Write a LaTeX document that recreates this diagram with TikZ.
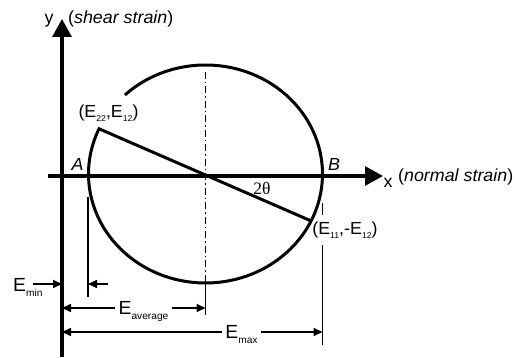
\documentclass[tikz,border=0pt]{standalone}
\usepackage{fontspec}
\setmainfont{Liberation Sans}[FakeStretch=1.02]
\newfontfamily\thetafont{Liberation Serif}
\usetikzlibrary{arrows.meta,calc}
\tikzset{
	axisline/.style={line width=3.2pt,-{Triangle[length=18pt,width=19pt]}},
	thinline/.style={line width=1.6pt},
	dimarrow/.style={line width=1.6pt,-{Triangle[length=9pt,width=8pt]}},
	lbl/.style={inner sep=0pt,font=\fontsize{17.5}{19}\selectfont},
	dimlbl/.style={inner sep=3pt,font=\fontsize{19}{21}\selectfont},
}
\newcommand{\subE}[2][10]{\raisebox{-0.45ex}{\fontsize{#1}{#1}\selectfont #2}}
\begin{document}
\begin{tikzpicture}[x=10pt,y=10pt]
	\useasboundingbox (0,0) rectangle (51.5,35.8);
	% axes
	\coordinate (C) at (20.55,18.4);
	\coordinate (ybot) at (6.2,0.1);
	\coordinate (ytop) at (6.2,33.9);
	\coordinate (xleft) at (4.8,18.2);
	\coordinate (xright) at (38.3,18.2);
	\draw[axisline] (ybot) -- (ytop);
	\draw[axisline] (xleft) -- (xright);
	% circle and diameter
	\path (C) ++(133.5:11.7 and 10.9) coordinate (gapend);
	\path (C) ++(155.5:11.7 and 10.9) coordinate (P1);
	\path (C) ++(-25.5:11.7 and 10.9) coordinate (P2);
	\draw[line width=3pt,line join=miter] (gapend) arc[start angle=133.5,end angle=-204.5,x radius=11.7,y radius=10.9] -- (P2);
	% centre line
	\coordinate (ctop) at (20.55,28.6);
	\coordinate (cbot) at (20.55,7.5);
	\coordinate (avgR) at (20.55,5.0);
	\coordinate (cend) at (20.55,4.3);
	\draw[line width=1.3pt,dash pattern=on 7pt off 3pt on 1.5pt off 3pt] (ctop) -- (cbot);
	\draw[thinline] (cbot) -- (cend);
	% extension lines at A and B
	\coordinate (Aext) at (8.8,16.1);
	\coordinate (Aend) at (8.8,6.1);
	\draw[thinline] (Aext) -- (Aend);
	\coordinate (Bext) at (32.25,15.5);
	\coordinate (Bgap) at (32.25,14.3);
	\coordinate (Bres) at (32.25,11.3);
	\coordinate (Bend) at (32.25,1.3);
	\draw[thinline] (Bext) -- (Bgap);
	\draw[thinline] (Bres) -- (Bend);
	% dimensions
	\node[dimlbl,anchor=base west] (emin) at (1.0,6.6) {E\subE{min}};
	\coordinate (minTail) at (3.3,7.4);
	\coordinate (minL) at (6.2,7.4);
	\coordinate (minTail2) at (10.8,7.4);
	\coordinate (minR) at (8.8,7.4);
	\draw[dimarrow] (minTail) -- (minL);
	\draw[dimarrow] (minTail2) -- (minR);
	\node[dimlbl,anchor=base] (eavg) at (14.35,4.3) {E\subE{average}};
	\coordinate (avgL) at (6.2,5.0);
	\draw[dimarrow] (eavg.west |- avgL) -- (avgL);
	\draw[dimarrow] (eavg.east |- avgL) -- (avgR);
	\node[dimlbl,anchor=base] (emax) at (24.15,1.9) {E\subE{max}};
	\coordinate (maxL) at (6.2,2.6);
	\coordinate (maxR) at (32.25,2.6);
	\draw[dimarrow] (emax.west |- maxL) -- (maxL);
	\draw[dimarrow] (emax.east |- maxL) -- (maxR);
	% labels
	\node[lbl,anchor=base] (ylbl) at (4.9,33.4) {y};
	\node[lbl,anchor=base west] (ytxt) at (6.8,33.4) {(\textit{shear strain})};
	\node[lbl,anchor=base] (xlbl) at (38.8,17.0) {x};
	\node[lbl,anchor=base west] (xtxt) at (39.8,17.6) {(\textit{normal strain})};
	\node[lbl] (Albl) at (7.75,19.35) {\textit{A}};
	\node[lbl] (Blbl) at (33.4,19.4) {\textit{B}};
	\node[lbl] (ang) at (26.2,17.0) {\thetafont 2θ};
	\node[lbl] (p1lbl) at (10.85,24.5) {(E\subE[8.5]{22},E\subE[8.5]{12})};
	\node[lbl] (p2lbl) at (34.5,12.8) {(E\subE[8.5]{11},-E\subE[8.5]{12})};
\end{tikzpicture}
\end{document}
